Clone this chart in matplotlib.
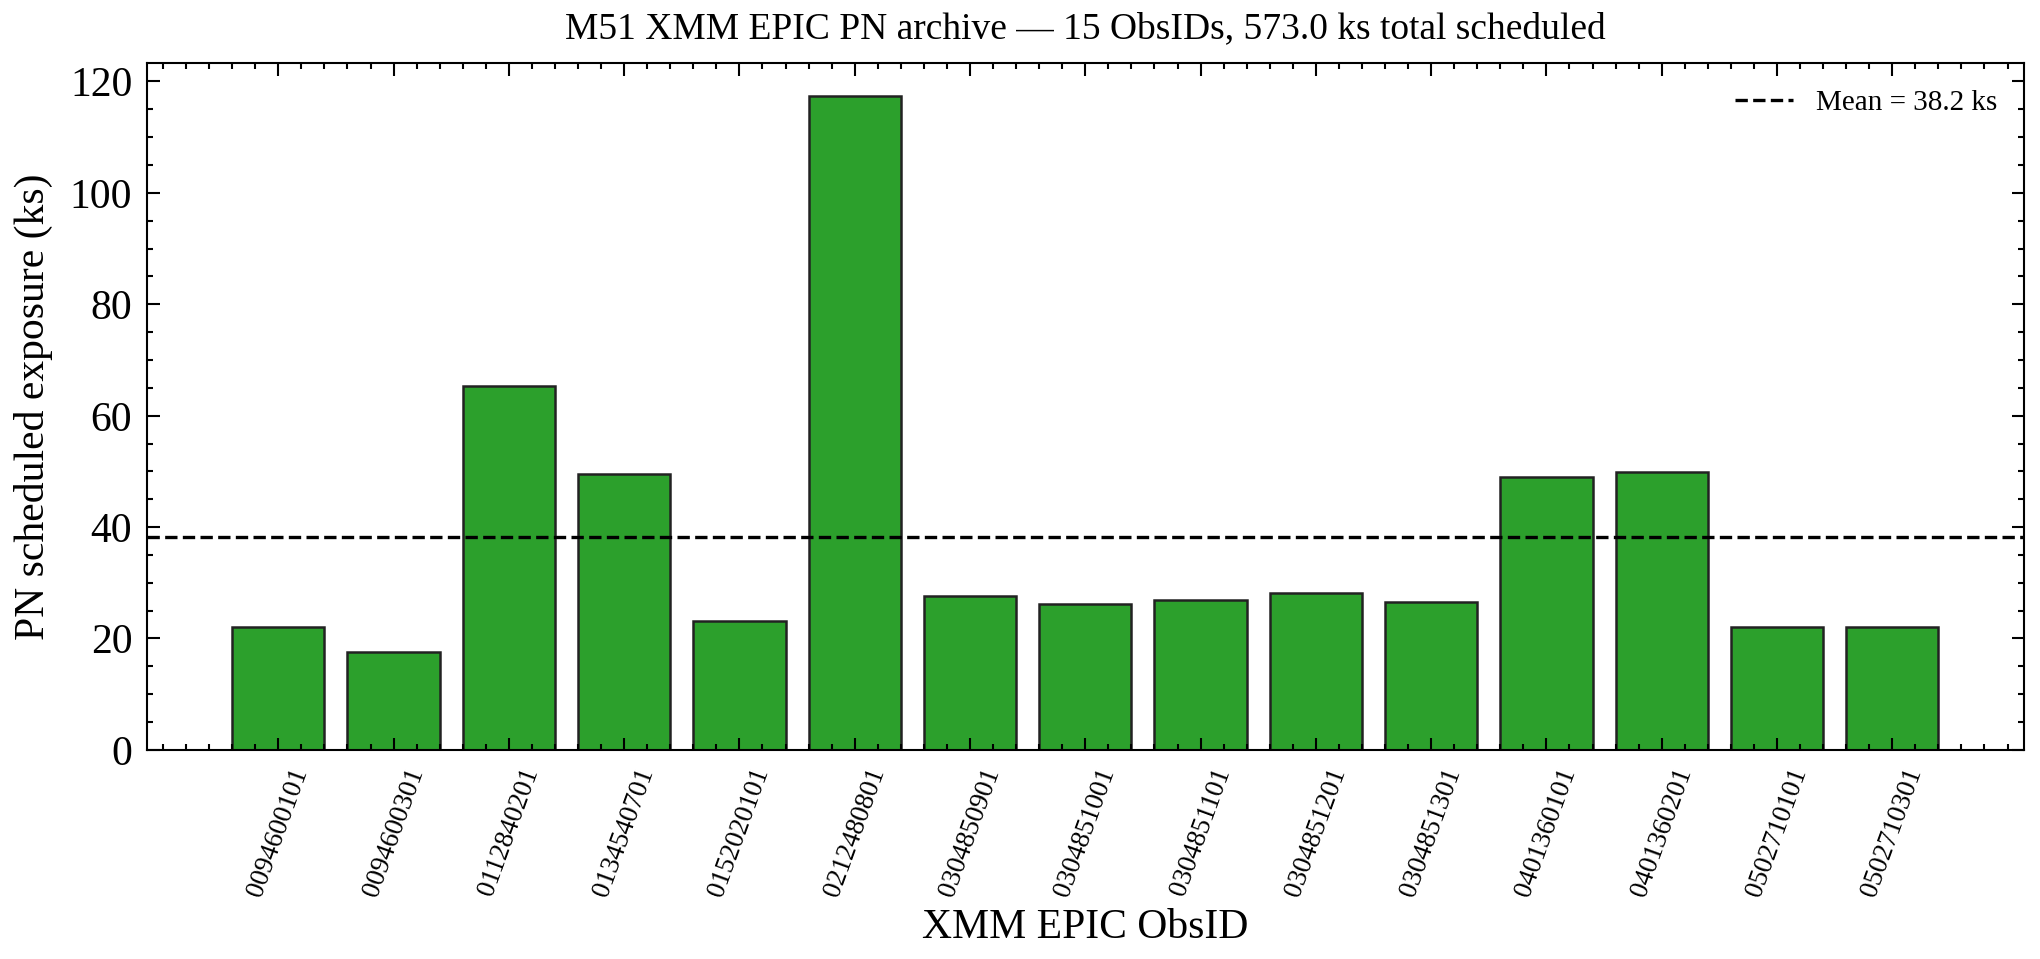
import matplotlib
matplotlib.use("Agg")
import matplotlib.pyplot as plt
import numpy as np

plt.rcParams["font.family"] = "serif"
plt.rcParams["font.serif"] = ["Liberation Serif", "DejaVu Serif"]
plt.rcParams["xtick.direction"] = "in"
plt.rcParams["ytick.direction"] = "in"
plt.rcParams["xtick.top"] = True
plt.rcParams["ytick.right"] = True
plt.rcParams["xtick.minor.visible"] = True
plt.rcParams["ytick.minor.visible"] = True
plt.rcParams["xtick.major.size"] = 3
plt.rcParams["ytick.major.size"] = 3
plt.rcParams["xtick.minor.size"] = 1.5
plt.rcParams["ytick.minor.size"] = 1.5
plt.rcParams["xtick.major.width"] = 0.5
plt.rcParams["ytick.major.width"] = 0.5
plt.rcParams["xtick.minor.width"] = 0.5
plt.rcParams["ytick.minor.width"] = 0.5
plt.rcParams["axes.linewidth"] = 0.5

obsids = ["0094600101", "0094600301", "0112840201", "0134540701", "0152020101",
          "0212480801", "0304850901", "0304851001", "0304851101", "0304851201",
          "0304851301", "0401360101", "0401360201", "0502710101", "0502710301"]
exposure_ks = [22.0, 17.5, 65.3, 49.5, 23.1, 117.4, 27.6, 26.2, 27.0, 28.1,
               26.5, 49.0, 49.8, 22.0, 22.0]

total = sum(exposure_ks)
mean = total / len(exposure_ks)

fig, ax = plt.subplots(figsize=(6.8, 3.197), dpi=300)
fig.subplots_adjust(left=0.072, right=0.992, top=0.934, bottom=0.218)

x = np.arange(len(obsids))
ax.bar(x, exposure_ks, width=0.8, color="#2ca02c", edgecolor="#222222", linewidth=0.6)
ax.axhline(mean, color="black", linestyle="--", linewidth=0.8,
           label=f"Mean = {mean:.1f} ks")

ax.set_xticks(x)
ax.set_xticklabels(obsids, rotation=70, fontsize=6.5)
ax.tick_params(axis="y", labelsize=10)
ax.set_xlabel("XMM EPIC ObsID", fontsize=10, labelpad=2)
ax.set_ylabel("PN scheduled exposure (ks)", fontsize=10)
ax.set_title(f"M51 XMM EPIC PN archive \u2014 {len(obsids)} ObsIDs, {total:.1f} ks total scheduled",
             fontsize=9)
ax.legend(loc="upper right", fontsize=7, frameon=False)

fig.savefig("out.png", dpi=300)
